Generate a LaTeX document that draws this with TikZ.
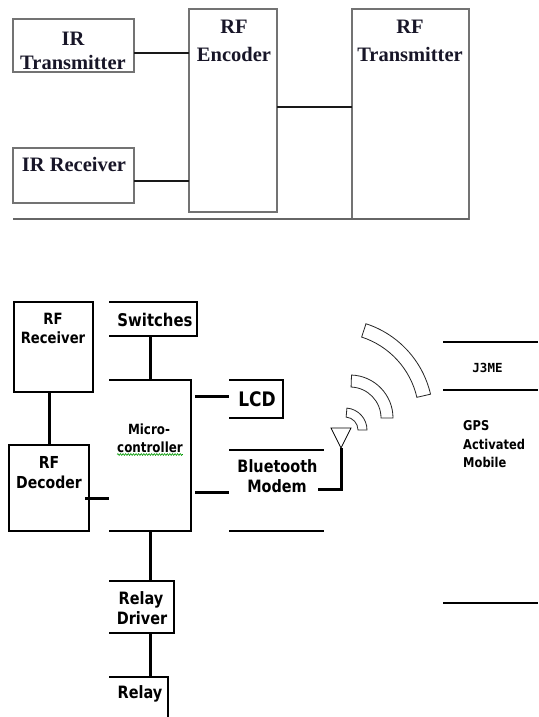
\documentclass[tikz,border=0pt]{standalone}
\usepackage{fontspec}
\setmainfont{Liberation Serif}
\newfontfamily\bsans[FakeStretch=0.85]{DejaVu Sans}
\newfontfamily\jmono{DejaVu Sans Mono}
\usetikzlibrary{decorations.pathmorphing}
\definecolor{topink}{RGB}{24,22,40}
\newcommand\sigarc[6]{\draw[ring] ([shift={(-#5:#4)}]#1,#2) arc[start angle=-#5,end angle=-#6,radius=#4] -- ([shift={(-#6:#3)}]#1,#2) arc[start angle=-#6,end angle=-#5,radius=#3] -- cycle;}
\begin{document}
\begin{tikzpicture}[x=1pt,y=-1pt,
  tbox/.style={draw=black!55, line width=1.2pt, inner sep=0pt, outer sep=0pt, rectangle},
  tlink/.style={line width=1.6pt, draw=black!90},
  ttxt/.style={font=\bfseries\fontsize{20.5}{24}\selectfont, anchor=base, inner sep=0pt, text=topink},
  bbox/.style={inner sep=0pt, outer sep=0pt, rectangle},
  bline/.style={line width=1.2pt, draw=black},
  blink/.style={line width=3pt, draw=black},
  btxt/.style={font=\bsans\bfseries, anchor=base, inner sep=0pt},
  ring/.style={draw=black!85, line width=0.8pt, fill=white}]
\useasboundingbox[fill=white] (0,0) rectangle (538,717);

% ---------------- top diagram ----------------
\node[tbox, minimum width=121pt, minimum height=53pt] (irt) at (73.5,45.5) {};
\node[tbox, minimum width=121pt, minimum height=55pt] (irr) at (73.5,175.5) {};
\node[tbox, minimum width=88pt, minimum height=203pt] (enc) at (233,110.5) {};
\node[tbox, minimum width=117pt, minimum height=210pt] (tx) at (410.5,114) {};

\node[ttxt] (irt1) at (73,46) {IR};
\node[ttxt] (irt2) at (73,70) {Transmitter};
\node[ttxt] (irr1) at (74,171) {IR Receiver};
\node[ttxt] (enc1) at (234,34) {RF};
\node[ttxt] (enc2) at (234,61) {Encoder};
\node[ttxt] (tx1) at (410,34) {RF};
\node[ttxt] (tx2) at (410,61) {Transmitter};

\coordinate (c1) at ([yshift=-7.5pt]irt.east);
\coordinate (c2) at ([yshift=-5.5pt]irr.east);
\coordinate (c3) at ([yshift=3.5pt]enc.east);
\draw[tlink] (c1) -- (c1 -| enc.west);
\draw[tlink] (c2) -- (c2 -| enc.west);
\draw[tlink] (c3) -- (c3 -| tx.west);
\draw[draw=black!60, line width=1.6pt] (irr.west |- tx.south) -- (tx.south east);

% ---------------- bottom diagram ----------------
\node[bbox, minimum width=79pt, minimum height=90pt] (rfr) at (53.5,347) {};
\node[bbox, minimum width=80pt, minimum height=86pt] (rfd) at (49,488) {};
\node[bbox, minimum width=88pt, minimum height=34pt] (sw) at (153,319) {};
\node[bbox, minimum width=82pt, minimum height=151pt] (mc) at (150,455.5) {};
\node[bbox, minimum width=54pt, minimum height=38pt] (lcd) at (256,399) {};
\node[bbox, minimum width=95pt, minimum height=81pt] (bt) at (276.5,490.5) {};
\node[bbox, minimum width=65pt, minimum height=52pt] (rd) at (141.5,607) {};
\node[bbox, minimum width=59pt, minimum height=50pt] (rl) at (138.5,702) {};

\draw[bline] (rfr.north west) rectangle (rfr.south east);
\draw[bline] (rfd.north west) rectangle (rfd.south east);
\draw[bline] (sw.north west) -- (sw.north east) -- (sw.south east) -- (sw.south west);
\draw[bline] (mc.north west) -- (mc.north east) -- (mc.south east) -- (mc.south west);
\draw[bline] (lcd.north west) -- (lcd.north east) -- (lcd.south east) -- (lcd.south west);
\draw[bline] (bt.north west) -- (bt.north east);
\draw[bline] (bt.south west) -- (bt.south east);
\draw[bline] (rd.north west) -- (rd.north east) -- (rd.south east) -- (rd.south west);
\draw[bline] (rl.north west) -- (rl.north east) -- (rl.south east);

\node[btxt, font=\bsans\bfseries\fontsize{15.5}{18}\selectfont] (rfr1) at (53,324) {RF};
\node[btxt, font=\bsans\bfseries\fontsize{15.5}{18}\selectfont] (rfr2) at (53,343) {Receiver};
\node[btxt, font=\bsans\bfseries\fontsize{16.5}{18}\selectfont] (rfd1) at (49,468) {RF};
\node[btxt, font=\bsans\bfseries\fontsize{16.5}{18}\selectfont] (rfd2) at (49,488) {Decoder};
\node[btxt, font=\bsans\bfseries\fontsize{17.5}{20}\selectfont] (swT) at (155,326) {Switches};
\node[btxt, font=\bsans\bfseries\fontsize{20}{22}\selectfont] (lcdT) at (257,406) {LCD};
\node[btxt, font=\bsans\bfseries\fontsize{14}{16}\selectfont] (mc1) at (149,434) {Micro-};
\node[btxt, font=\bsans\bfseries\fontsize{14}{16}\selectfont] (mc2) at (150,452) {controller};
\node[btxt, font=\bsans\bfseries\fontsize{17}{20}\selectfont] (bt1) at (277.5,472) {Bluetooth};
\node[btxt, font=\bsans\bfseries\fontsize{17}{20}\selectfont] (bt2) at (277,492) {Modem};
\node[btxt, font=\bsans\bfseries\fontsize{17}{20}\selectfont] (rd1) at (141,604) {Relay};
\node[btxt, font=\bsans\bfseries\fontsize{17}{20}\selectfont] (rd2) at (142,624) {Driver};
\node[btxt, font=\bsans\bfseries\fontsize{17}{20}\selectfont] (rlT) at (140,698) {Relay};

\draw[green!60!black, line width=0.6pt, decorate, decoration={snake, amplitude=0.9pt, segment length=2.6pt}]
  ([yshift=-2.5pt]mc2.base west) -- ([yshift=-2.5pt]mc2.base east);

% connectors
\draw[blink] (rfd.north |- rfr.south) -- (rfd.north);
\draw[blink] (mc.north |- sw.south) -- (mc.north);
\coordinate (lcdin) at ([yshift=3pt]lcd.west);
\coordinate (btin) at ([yshift=-1.5pt]bt.west);
\coordinate (rfdout) at ([yshift=-10pt]rfd.east);
\draw[blink, shorten <=4pt] (mc.east |- lcdin) -- (lcdin);
\draw[blink, shorten <=4pt] (mc.east |- btin) -- (btin);
\draw[blink, shorten <=-4pt] (rfdout) -- (rfdout -| mc.west);
\draw[blink] (mc.south) -- (mc.south |- rd.north);
\draw[blink] (mc.south |- rd.south) -- (mc.south |- rl.north);

% antenna
\coordinate (ant) at (341,448);
\coordinate (btout) at (318,489);
\draw[line width=0.8pt] (331,428) -- (351,428) -- (ant) -- cycle;
\draw[blink, line cap=butt] (btout) -| (ant);

% signal waves
\sigarc{345}{430}{13}{22}{0}{85}
\sigarc{350}{418}{31}{43}{0}{88}
\sigarc{336}{416}{83}{97}{13}{72}

% mobile
\coordinate (m1) at (443,342);
\coordinate (m2) at (443,390);
\coordinate (m3) at (443,603);
\draw[line width=1.2pt] (m1) -- (m1 -| 538,0);
\draw[line width=2.2pt] (m2) -- (m2 -| 538,0);
\draw[line width=1.2pt] (m3) -- (m3 -| 538,0);
\node[anchor=base, inner sep=0pt, font=\jmono\bfseries\fontsize{12.5}{14}\selectfont] (j2me) at (487.5,372) {J3ME};
\node[anchor=base west, inner sep=0pt, font=\bsans\bfseries\fontsize{13.5}{16}\selectfont] (gps1) at (463,430) {GPS};
\node[anchor=base west, inner sep=0pt, font=\bsans\bfseries\fontsize{13.5}{16}\selectfont] (gps2) at (463,449) {Activated};
\node[anchor=base west, inner sep=0pt, font=\bsans\bfseries\fontsize{13.5}{16}\selectfont] (gps3) at (463,467) {Mobile};
\end{tikzpicture}
\end{document}
